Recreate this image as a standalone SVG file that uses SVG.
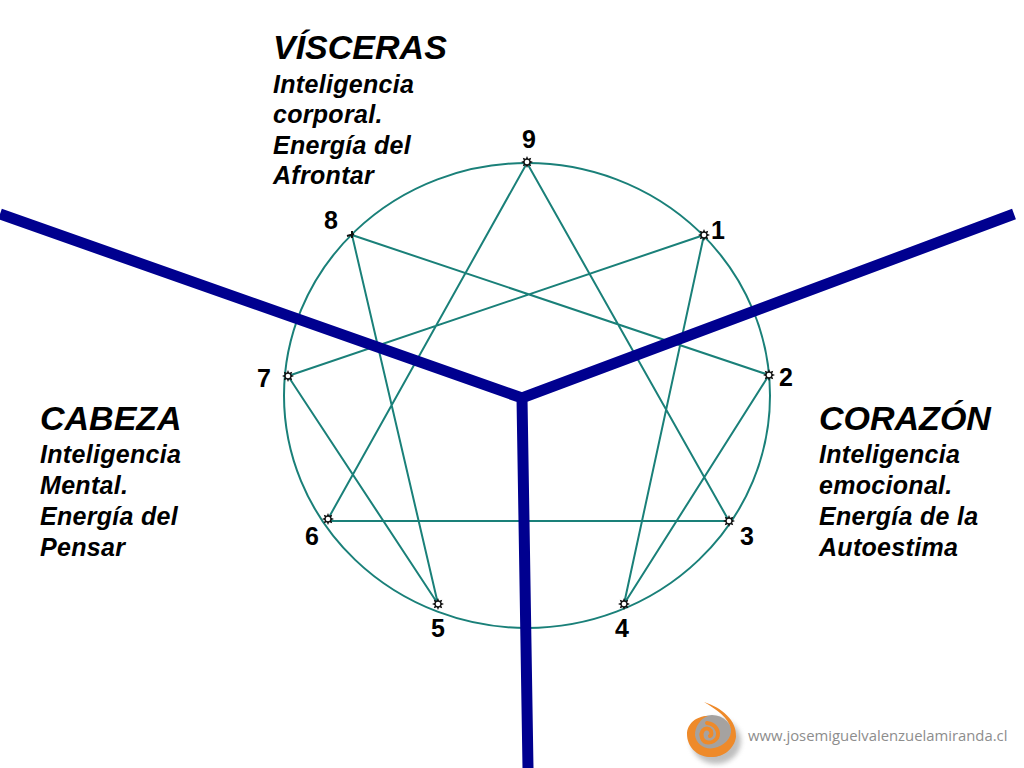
<svg xmlns="http://www.w3.org/2000/svg" width="1024" height="768" viewBox="0 0 1024 768">
<defs>
<filter id="bl" x="-30%" y="-30%" width="160%" height="160%"><feGaussianBlur stdDeviation="2.500"/></filter>
<filter id="bs" x="-30%" y="-30%" width="160%" height="160%"><feGaussianBlur stdDeviation="0.500"/></filter>
<g id="star"><path d="M0-6L1.200-3.200L4.200-4.200L3.200-1.200L6 0L3.200 1.200L4.200 4.200L1.200 3.200L0 6L-1.200 3.200L-4.200 4.200L-3.200 1.200L-6 0L-3.200-1.200L-4.200-4.200L-1.200-3.200Z" fill="#111"/><circle r="2.300" fill="#fff"/></g>
</defs>
<style>
text{font-family:"Liberation Sans",Arial,sans-serif;fill:#000}
.h{font-size:34px;font-weight:bold;font-style:italic}
.b{font-size:25px;font-weight:bold;font-style:italic;letter-spacing:.3px}
.n{font-size:25px;font-weight:bold}
.c{fill:none;stroke:#1a8079;stroke-width:2}
.a{fill:none;stroke:#00008f;stroke-width:11}
</style>
<rect width="1024" height="768" fill="#fff"/>
<g id="connectors">
<ellipse class="c" cx="527" cy="395.500" rx="243" ry="232.500"/>
<path class="c" d="M527 163L729 521M527 163L328 519M352 235L769 375M352 235L438 604M704 235L288 376M704 235L624 604M769 375L624 604M729 521H328M288 376L438 604"/>
<path class="a" d="M0 214L522 398L1014 214M522 398L528 768"/>
</g>
<g id="n9"><use href="#star" x="527" y="162"/><text class="n" x="529" y="148" text-anchor="middle">9</text></g>
<g id="n1"><use href="#star" x="704" y="235"/><text class="n" x="718" y="239" text-anchor="middle">1</text></g>
<g id="n2"><use href="#star" x="769" y="375"/><text class="n" x="786" y="386" text-anchor="middle">2</text></g>
<g id="n3"><use href="#star" x="729" y="521"/><text class="n" x="747" y="545" text-anchor="middle">3</text></g>
<g id="n4"><use href="#star" x="624" y="604"/><text class="n" x="622" y="637" text-anchor="middle">4</text></g>
<g id="n5"><use href="#star" x="438" y="604"/><text class="n" x="438" y="637" text-anchor="middle">5</text></g>
<g id="n6"><use href="#star" x="328" y="519"/><text class="n" x="312" y="545" text-anchor="middle">6</text></g>
<g id="n7"><use href="#star" x="288" y="376"/><text class="n" x="264" y="387" text-anchor="middle">7</text></g>
<g id="n8"><path d="M347 236L354 234M352 231V238" stroke="#111" stroke-width="2"/><text class="n" x="331" y="229" text-anchor="middle">8</text></g>
<g id="visceras"><text class="h" x="273" y="59">VÍSCERAS</text><text class="b" x="273" y="93">Inteligencia</text><text class="b" x="273" y="123">corporal.</text><text class="b" x="273" y="154">Energía del</text><text class="b" x="273" y="184">Afrontar</text></g>
<g id="cabeza"><text class="h" x="40" y="430">CABEZA</text><text class="b" x="40" y="463">Inteligencia</text><text class="b" x="40" y="494">Mental.</text><text class="b" x="40" y="525">Energía del</text><text class="b" x="40" y="556">Pensar</text></g>
<g id="corazon"><text class="h" x="819" y="430">CORAZÓN</text><text class="b" x="819" y="463">Inteligencia</text><text class="b" x="819" y="494">emocional.</text><text class="b" x="819" y="525">Energía de la</text><text class="b" x="819" y="556">Autoestima</text></g>
<g id="logo">
<ellipse cx="716" cy="741" rx="25" ry="23" fill="#8a8a8a" opacity=".55" filter="url(#bl)"/>
<circle cx="712" cy="736" r="21" fill="#a5a2a0" filter="url(#bs)"/>
<g filter="url(#bs)">
<path fill="#ee8a2c" d="M704 702C722 708 737 720 736 737C734 750 722 758 709 757C696 756 687 746 687 734C687 724 696 716 708 716C700 719 695 727 695 735C696 744 705 750 714 748C724 746 732 738 731 729C729 718 716 709 704 702Z"/>
<path fill="none" stroke="#ee8a2c" stroke-width="4" stroke-linecap="round" d="M707 723C716 724 720 732 717 738C713 744 704 744 702 738C700 732 704 727 709 729C712 731 712 735 710 736"/>
</g>
<text x="748" y="741" style="font-family:'Open Sans',sans-serif;font-size:14.850px;fill:#8d8d8d">www.josemiguelvalenzuelamiranda.cl</text>
</g>
</svg>
